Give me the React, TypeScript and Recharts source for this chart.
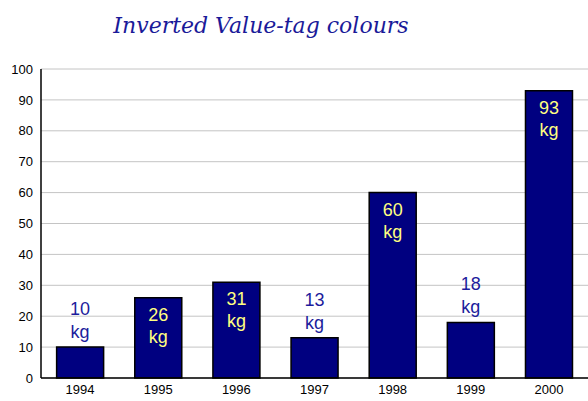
import { BarChart, Bar, XAxis, YAxis, CartesianGrid, LabelList } from "recharts";

const years = ["1994", "1995", "1996", "1997", "1998", "1999", "2000"];
const weights = [10, 26, 31, 13, 60, 18, 93];
const yTicks = [0, 10, 20, 30, 40, 50, 60, 70, 80, 90, 100];
const unit = "kg";

const data = years.map((year, i) => ({ year, weight: weights[i] }));

// values below this get their tag above the bar, in navy; others go inside, in yellow
const INSIDE_FROM = 20;

const ValueTag = (props: any) => {
  const { x, y, width, value } = props;
  const cx = x + width / 2;
  const inside = value >= INSIDE_FROM;
  const fill = inside ? "#ffff80" : "#1c1c9c";
  const first = inside ? y + 23 : y - 32;
  const second = inside ? y + 45 : y - 9;
  return (
    <g fontFamily="Liberation Sans, Arial, sans-serif" fontSize={18} fill={fill} textAnchor="middle">
      <text x={cx} y={first}>{value}</text>
      <text x={cx} y={second}>{unit}</text>
    </g>
  );
};

const tickStyle = { fontSize: 13, fill: "#000", fontFamily: "Liberation Sans, Arial, sans-serif" };

export default function App() {
  return (
    <div style={{ position: "absolute", left: 0, top: 0, width: 588, height: 401, background: "#fff" }}>
      <div
        style={{
          position: "absolute",
          left: 0,
          top: 13,
          width: 522,
          textAlign: "center",
          fontFamily: "DejaVu Serif, serif",
          fontStyle: "italic",
          fontSize: 22,
          color: "#1a1a99",
        }}
      >
        Inverted Value-tag colours
      </div>
      <BarChart
        width={588}
        height={401}
        data={data}
        margin={{ top: 69, right: 0, left: 0, bottom: 0 }}
        barCategoryGap="20%"
      >
        <CartesianGrid vertical={false} stroke="#c4c4c4" />
        <XAxis
          dataKey="year"
          height={23}
          tickLine={false}
          axisLine={{ stroke: "#000", strokeWidth: 1.5 }}
          tick={tickStyle}
          tickMargin={1}
        />
        <YAxis
          width={41}
          domain={[0, 100]}
          ticks={yTicks}
          interval={0}
          tickLine={false}
          axisLine={{ stroke: "#000", strokeWidth: 1.5 }}
          tick={tickStyle}
          tickMargin={2}
        />
        <Bar dataKey="weight" fill="#000080" stroke="#000" strokeWidth={1.5} isAnimationActive={false}>
          <LabelList dataKey="weight" content={ValueTag} />
        </Bar>
      </BarChart>
    </div>
  );
}
